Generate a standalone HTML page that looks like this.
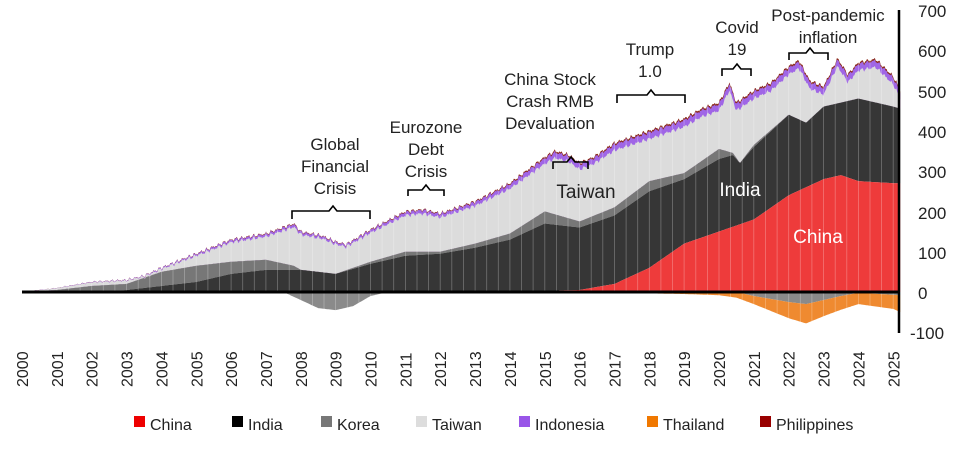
<!DOCTYPE html>
<html><head><meta charset="utf-8"><style>
body{margin:0;background:#fff;font-family:"Liberation Sans",sans-serif}
svg text{font-family:"Liberation Sans",sans-serif;fill:#222}
</style></head><body>
<svg id="s" width="958" height="444" xmlns="http://www.w3.org/2000/svg">
<g id="areas"></g>
<line x1="22" y1="292" x2="899" y2="292" stroke="#000" stroke-width="3"/>
<line x1="899" y1="10" x2="899" y2="333" stroke="#000" stroke-width="2.5"/>
<g font-size="17" text-anchor="start">
<text x="918" y="17">700</text><text x="918" y="57">600</text><text x="918" y="98">500</text>
<text x="918" y="138">400</text><text x="918" y="178">300</text><text x="918" y="219">200</text>
<text x="918" y="259">100</text><text x="918" y="299">0</text><text x="910" y="339">-100</text>
</g>
<g id="years" font-size="16"></g>
<g font-size="17" text-anchor="middle">
<text x="335" y="150">Global</text><text x="335" y="172">Financial</text><text x="335" y="194">Crisis</text>
<text x="426" y="133">Eurozone</text><text x="426" y="155">Debt</text><text x="426" y="177">Crisis</text>
<text x="550" y="85">China Stock</text><text x="550" y="107">Crash RMB</text><text x="550" y="129">Devaluation</text>
<text x="650" y="55">Trump</text><text x="650" y="77">1.0</text>
<text x="737" y="33">Covid</text><text x="737" y="55">19</text>
<text x="828" y="21">Post-pandemic</text><text x="828" y="43">inflation</text>
<text x="586" y="198" font-size="19">Taiwan</text>
<text x="740" y="196" font-size="19" style="fill:#fff">India</text>
<text x="818" y="243" font-size="19" style="fill:#fff">China</text>
</g>
<g fill="none" stroke="#000" stroke-width="1.6">
<path d="M292,219 v-8 h37 l4,-5 l4,5 h33 v8"/>
<path d="M408,196 v-6 h14 l4,-5 l4,5 h14 v6"/>
<path d="M553,169 v-7 h14 l4,-5 l4,5 h13 v7"/>
<path d="M617,103 v-8 h30 l4,-5 l4,5 h30 v8"/>
<path d="M722,76 v-7 h11 l4,-5 l4,5 h10 v7"/>
<path d="M789,60 v-7 h17 l4,-5 l4,5 h14 v7"/>
</g>
<g font-size="16">
<rect x="134" y="416" width="11" height="11" fill="#e00"/><text x="150" y="430">China</text>
<rect x="232" y="416" width="11" height="11" fill="#000"/><text x="248" y="430">India</text>
<rect x="321" y="416" width="11" height="11" fill="#777"/><text x="337" y="430">Korea</text>
<rect x="416" y="416" width="11" height="11" fill="#ddd"/><text x="432" y="430">Taiwan</text>
<rect x="519" y="416" width="11" height="11" fill="#9955e8"/><text x="535" y="430">Indonesia</text>
<rect x="647" y="416" width="11" height="11" fill="#f07800"/><text x="663" y="430">Thailand</text>
<rect x="760" y="416" width="11" height="11" fill="#900"/><text x="776" y="430">Philippines</text>
</g>
</svg>
<script>
const X=t=>22+t*34.85, Y=v=>292-v*0.403;
function interp(pts,t){if(t<=pts[0][0])return pts[0][1];for(let i=1;i<pts.length;i++){if(t<=pts[i][0]){const a=pts[i-1],b=pts[i];return a[1]+(b[1]-a[1])*(t-a[0])/(b[0]-a[0]);}}return pts[pts.length-1][1];}
const china=[[0,0],[14.8,0],[15,3],[16,5],[17,20],[18,60],[19,120],[20,150],[21,180],[22,240],[23,280],[23.5,290],[24,275],[25,270],[25.2,270]];
const india=[[0,0],[2.5,2],[3,5],[4,15],[5,25],[6,45],[7,55],[8,55],[9,45],[10,70],[11,90],[12,95],[13,110],[14,130],[15,170],[16,160],[17,190],[18,250],[19,280],[20,330],[20.4,340],[20.6,320],[21,360],[22,440],[22.5,420],[23,460],[24,480],[25,460],[25.2,455]];
const korea=[[0,0],[1,5],[2,15],[3,20],[4,50],[5,65],[6,75],[7,80],[7.8,65],[8,55],[9,45],[10,75],[11,100],[12,100],[13,120],[14,145],[15,200],[16,175],[17,210],[18,275],[19,295],[20,355],[20.4,345],[20.6,320],[21,365],[22,440],[22.5,420],[23,460],[24,480],[25,460],[25.2,455]];
const total=[[0,0],[0.5,5],[1,10],[2,25],[3,30],[3.5,40],[4,60],[4.7,85],[5,95],[6,130],[7,145],[7.8,170],[8,150],[8.6,140],[9,125],[9.3,118],[10,155],[11,200],[11.5,205],[12,195],[13,225],[14,270],[15,335],[15.3,350],[15.7,340],[16,320],[16.4,335],[17,370],[18,400],[19,430],[19.5,455],[20,470],[20.3,520],[20.5,470],[21,500],[21.5,520],[22,560],[22.3,575],[22.6,525],[23,510],[23.4,580],[23.7,540],[24,570],[24.5,578],[25,535],[25.2,500]];
function nz(t){return 3*Math.sin(t*37.1)+2*Math.sin(t*91.7+1)+1.5*Math.sin(t*173.3+2);}
const ft=t=>interp(total,t)+nz(t)*Math.min(1,t/4);
const fi=t=>ft(t)-Math.min(4,interp(total,t)*0.01);
const fw=t=>ft(t)-Math.min(20,interp(total,t)*0.05);
const korNeg=[[0,0],[7.5,0],[8,-20],[8.5,-40],[9,-45],[9.5,-35],[10,-10],[10.5,0],[20.5,0],[21,-10],[22,-25],[22.5,-30],[23,-20],[23.5,-10],[24,-2],[25.2,-8]];
const thaNeg=[[0,0],[10,0],[17,-2],[19,-5],[20,-8],[21,-20],[22,-40],[22.5,-48],[23,-40],[24,-28],[25,-35],[25.2,-42]];
const T1=25.2,N=900;
function poly(lo,hi,col){let up=[],dn=[];for(let i=0;i<=N;i++){const t=i*T1/N;up.push(X(t).toFixed(1)+','+Y(hi(t)).toFixed(1));dn.push(X(t).toFixed(1)+','+Y(lo(t)).toFixed(1));}
return `<polygon points="${up.join(' ')} ${dn.reverse().join(' ')}" fill="${col}"/>`;}
const f=p=>t=>interp(p,t);
const fk=t=>Math.min(f(korea)(t),fw(t)-2);
const kn=f(korNeg), tn=t=>kn(t)+interp(thaNeg,t);
let h='';
h+=poly(fk,ft,'#8b2a1a');
h+=poly(fk,fi,'#a066e6');
h+=poly(fk,fw,'#dcdcdc');
h+=poly(f(india),fk,'#777');
h+=poly(f(china),f(india),'#363636');
h+=poly(t=>0,f(china),'#ee3b3b');
h+=poly(kn,t=>0,'#8a8a8a');
h+=poly(tn,kn,'#ef8a30');
let st='';for(let t=0;t<T1;t+=1/3){st+=`<line x1="${X(t).toFixed(1)}" y1="0" x2="${X(t).toFixed(1)}" y2="340" stroke="#fff" stroke-opacity="0.3" stroke-width="0.8"/>`;}
h+=st;
document.getElementById('areas').innerHTML=h;
let y='';for(let i=0;i<=25;i++){const x=X(i)+6;y+=`<text transform="translate(${x.toFixed(1)},387) rotate(-90)">${2000+i}</text>`;}
document.getElementById('years').innerHTML=y;
</script>
</body></html>
